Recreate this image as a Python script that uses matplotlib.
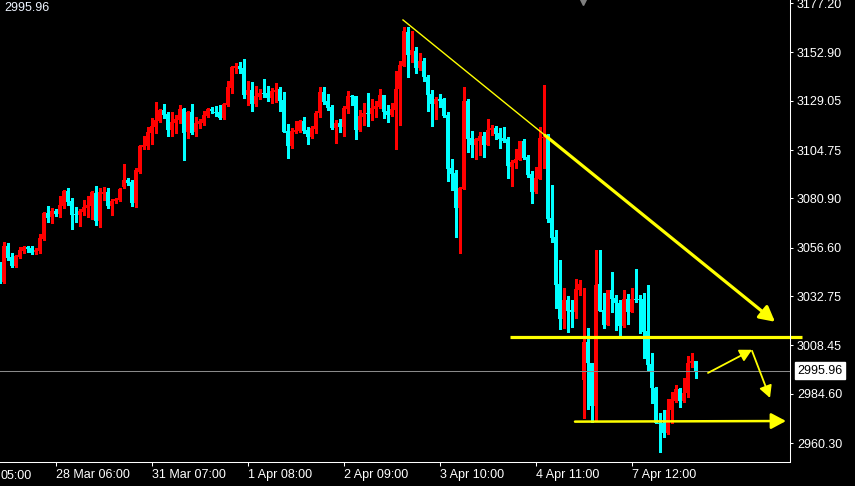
#!/usr/bin/env python

# gold H1 chart with trend lines, MT4 style

import numpy as np
import matplotlib.pyplot as plt

# candle data (one bar per hour)
opens = [
    3049.6, 3039.8, 3057.5, 3052.1, 3047.7, 3052.1, 3055.1, 3057.0, 3056.5, 3054.6,
    3055.1, 3061.0, 3073.8, 3071.8, 3074.8, 3073.3, 3077.2, 3084.6, 3079.7, 3073.3,
    3072.8, 3074.3, 3076.2, 3077.2, 3083.6, 3069.8, 3083.1, 3084.1, 3077.2, 3079.7,
    3080.2, 3086.6, 3090.0, 3089.0, 3078.7, 3094.0, 3106.3, 3106.8, 3113.2, 3116.1,
    3119.1, 3124.5, 3122.5, 3114.7, 3118.1, 3119.6, 3125.0, 3113.7, 3123.5, 3113.7,
    3117.6, 3118.1, 3121.6, 3125.0, 3123.5, 3123.5, 3120.6, 3127.0, 3135.4, 3145.2,
    3146.2, 3145.2, 3131.9, 3134.4, 3127.5, 3130.9, 3132.9, 3132.9, 3130.4, 3133.4,
    3134.9, 3129.4, 3114.2, 3106.8, 3113.7, 3114.2, 3119.1, 3114.7, 3111.2, 3115.2,
    3123.0, 3133.4, 3128.9, 3126.0, 3115.6, 3118.1, 3116.1, 3125.0, 3131.4, 3131.4,
    3114.7, 3121.1, 3123.0, 3122.5, 3125.0, 3126.0, 3131.9, 3124.0, 3122.0, 3124.5,
    3134.9, 3146.2, 3162.9, 3151.6, 3153.6, 3145.2, 3148.6, 3140.8, 3132.4, 3127.5,
    3129.9, 3129.9, 3122.0, 3095.9, 3093.5, 3076.2, 3085.6, 3128.9, 3110.7, 3107.3,
    3109.2, 3111.7, 3107.3, 3114.7, 3115.6, 3113.2, 3110.7, 3110.2, 3096.4, 3098.4,
    3099.9, 3109.2, 3101.4, 3093.0, 3084.1, 3090.5, 3110.7, 3111.7, 3071.3, 3062.0,
    3038.8, 3021.6, 3030.9, 3026.0, 3025.0, 3035.8, 2991.5, 3010.2, 2999.9, 2978.7,
    3038.8, 3026.0, 3018.6, 3035.8, 3031.9, 3029.4, 3018.1, 3031.4, 3025.0, 3031.4,
    3031.4, 3031.4, 3015.6, 2999.4, 2987.6, 2970.3, 2970.3, 2965.4, 2976.7, 2981.2,
    2987.1, 2981.2, 2985.1, 2999.9, 3000.9,
]
highs = [
    3049.6, 3059.5, 3059.0, 3054.1, 3053.1, 3057.0, 3057.5, 3057.5, 3057.5, 3056.5,
    3063.4, 3074.3, 3077.2, 3076.2, 3075.7, 3082.1, 3085.1, 3086.1, 3081.2, 3076.7,
    3075.7, 3080.2, 3082.1, 3084.6, 3087.1, 3086.1, 3086.6, 3086.1, 3080.7, 3081.2,
    3086.1, 3097.9, 3091.0, 3090.0, 3095.9, 3107.3, 3111.7, 3116.1, 3120.6, 3128.5,
    3125.0, 3127.5, 3123.5, 3123.5, 3122.0, 3127.0, 3125.5, 3124.0, 3127.5, 3121.1,
    3120.1, 3124.0, 3125.5, 3126.0, 3126.5, 3127.0, 3128.0, 3138.8, 3146.2, 3147.7,
    3148.2, 3149.6, 3138.8, 3138.3, 3136.3, 3134.9, 3139.8, 3136.3, 3135.4, 3137.8,
    3135.8, 3133.4, 3117.6, 3115.6, 3119.1, 3119.6, 3121.1, 3116.1, 3116.6, 3124.0,
    3135.8, 3135.8, 3132.4, 3127.0, 3119.6, 3120.1, 3126.5, 3133.9, 3131.9, 3131.4,
    3124.5, 3128.0, 3132.9, 3129.9, 3128.9, 3134.9, 3131.9, 3127.0, 3128.0, 3143.7,
    3148.6, 3165.4, 3165.4, 3163.4, 3155.5, 3152.6, 3150.1, 3141.8, 3134.4, 3130.9,
    3132.4, 3130.4, 3123.5, 3100.4, 3094.9, 3086.6, 3135.8, 3129.9, 3114.2, 3110.7,
    3113.7, 3113.7, 3120.1, 3117.1, 3116.6, 3115.6, 3116.1, 3111.2, 3099.9, 3105.3,
    3109.2, 3110.2, 3102.3, 3094.5, 3096.4, 3116.1, 3136.8, 3112.7, 3087.6, 3065.4,
    3050.6, 3036.8, 3032.9, 3030.9, 3041.3, 3040.8, 3036.8, 3017.1, 2999.9, 3055.5,
    3055.5, 3034.4, 3035.8, 3044.7, 3033.4, 3030.9, 3035.8, 3033.9, 3036.8, 3046.2,
    3033.4, 3034.4, 3038.3, 3004.8, 2988.1, 2975.3, 2976.7, 2982.2, 2985.6, 2989.1,
    2987.6, 2992.5, 3003.3, 3004.8, 3000.9,
]
lows = [
    3039.3, 3039.3, 3050.6, 3047.2, 3047.2, 3051.6, 3054.1, 3054.6, 3053.6, 3053.6,
    3054.1, 3060.5, 3069.3, 3068.9, 3072.3, 3071.8, 3076.2, 3077.7, 3065.9, 3069.3,
    3067.4, 3072.8, 3071.8, 3070.8, 3067.9, 3066.9, 3080.2, 3076.2, 3072.8, 3078.7,
    3079.7, 3086.1, 3087.6, 3077.2, 3076.7, 3093.5, 3105.3, 3105.3, 3107.8, 3113.2,
    3118.6, 3120.6, 3111.7, 3111.7, 3113.2, 3118.1, 3099.9, 3110.7, 3112.7, 3111.7,
    3115.6, 3117.1, 3121.1, 3123.0, 3121.6, 3120.1, 3120.1, 3126.5, 3132.9, 3142.7,
    3142.7, 3130.4, 3127.0, 3124.0, 3126.5, 3129.9, 3130.9, 3128.9, 3128.0, 3128.5,
    3124.0, 3113.7, 3100.9, 3105.8, 3113.2, 3113.7, 3113.2, 3107.8, 3110.7, 3113.2,
    3121.1, 3127.5, 3124.5, 3115.2, 3108.3, 3113.7, 3111.7, 3123.0, 3127.0, 3110.2,
    3114.2, 3117.1, 3116.6, 3119.6, 3121.1, 3125.5, 3120.6, 3118.6, 3121.6, 3105.3,
    3117.1, 3146.2, 3140.8, 3148.2, 3142.7, 3144.2, 3138.8, 3124.0, 3116.6, 3120.1,
    3126.0, 3121.1, 3089.5, 3085.1, 3062.0, 3054.1, 3085.6, 3103.8, 3101.4, 3100.4,
    3102.3, 3101.4, 3107.3, 3112.2, 3110.2, 3105.8, 3108.7, 3091.0, 3087.1, 3095.9,
    3099.9, 3100.4, 3091.5, 3078.7, 3083.6, 3090.5, 3095.9, 3069.3, 3059.5, 3027.0,
    3016.6, 3017.1, 3015.2, 3017.6, 3022.1, 3033.4, 2972.8, 2977.2, 2970.8, 2971.8,
    3025.5, 3017.1, 3018.6, 3025.0, 3016.1, 3013.2, 3017.6, 3019.1, 3025.0, 3029.9,
    3014.7, 3002.3, 2996.4, 2980.2, 2970.3, 2956.0, 2963.4, 2964.9, 2970.3, 2980.7,
    2978.2, 2980.7, 2983.1, 2997.9, 2992.5,
]
closes = [
    3039.8, 3057.5, 3051.6, 3047.7, 3052.6, 3055.5, 3057.0, 3056.0, 3054.1, 3055.5,
    3061.5, 3073.8, 3071.3, 3074.8, 3073.3, 3077.7, 3084.6, 3079.2, 3072.8, 3072.8,
    3074.8, 3076.7, 3077.7, 3084.1, 3069.8, 3084.1, 3084.1, 3077.2, 3079.7, 3080.7,
    3085.6, 3090.0, 3088.5, 3078.7, 3094.9, 3106.8, 3107.3, 3113.7, 3116.6, 3119.6,
    3124.5, 3122.0, 3114.7, 3118.6, 3120.1, 3125.0, 3113.2, 3123.5, 3113.2, 3118.1,
    3119.1, 3122.0, 3125.0, 3124.0, 3123.0, 3120.6, 3127.5, 3135.8, 3145.7, 3146.2,
    3144.7, 3131.9, 3134.4, 3127.5, 3131.4, 3132.9, 3132.4, 3130.4, 3133.9, 3134.4,
    3128.9, 3113.7, 3106.8, 3114.2, 3114.7, 3119.1, 3114.2, 3111.2, 3115.6, 3123.0,
    3133.4, 3128.5, 3125.5, 3115.6, 3118.1, 3116.1, 3125.5, 3131.4, 3130.9, 3114.7,
    3121.6, 3123.0, 3122.5, 3125.5, 3126.5, 3131.9, 3123.5, 3122.0, 3125.0, 3134.9,
    3146.7, 3163.4, 3151.6, 3154.1, 3145.2, 3148.6, 3140.8, 3131.9, 3127.5, 3129.9,
    3128.9, 3121.6, 3095.4, 3093.0, 3076.2, 3086.1, 3128.9, 3110.2, 3107.3, 3110.2,
    3111.7, 3107.3, 3114.7, 3115.6, 3112.7, 3110.2, 3109.2, 3096.9, 3098.9, 3100.4,
    3109.2, 3100.9, 3092.5, 3084.1, 3091.0, 3110.7, 3111.2, 3070.8, 3061.5, 3038.3,
    3021.6, 3030.9, 3025.5, 3025.0, 3036.3, 3038.8, 3010.2, 2999.9, 2978.7, 3038.3,
    3025.5, 3018.6, 3035.8, 3031.4, 3029.4, 3018.1, 3031.4, 3025.0, 3031.4, 3030.9,
    3030.9, 3015.2, 2998.9, 2987.6, 2970.3, 2969.8, 2965.4, 2976.7, 2982.2, 2987.1,
    2981.2, 2985.1, 2999.9, 3000.9, 2995.96,
]

# axis labels
ytick_values = [3177.20, 3152.90, 3129.05, 3104.75, 3080.90, 3056.60,
                3032.75, 3008.45, 2984.60, 2960.30]
xtick_bars = [14, 38, 62, 86, 110, 134, 158]
xtick_labels = ['28 Mar 06:00', '31 Mar 07:00', '1 Apr 08:00', '2 Apr 09:00',
                '3 Apr 10:00', '4 Apr 11:00', '7 Apr 12:00']
# only the time of the first date label is visible at the left edge
first_label = '05:00'

# hand drawn lines (bar index, price)
trend_bars = [100.75, 136.25, 193.75]
trend_prices = [3168.85, 3112.0, 3020.1]
level_bars = [127.5, 200.5]
level_price = 3012.4
support_bars = [143.75, 196.5]
support_prices = [2970.9, 2971.2]
bounce_bars = [177.0, 188.0, 192.5]
bounce_prices = [2994.9, 3006.3, 2982.6]

UP = '#ff0000'
DOWN = '#00ffff'
YEL = '#ffff00'


def arrow(ax, start, end, lw, scale, head='-|>,head_length=0.6,head_width=0.32'):
    ax.annotate('', xy=end, xytext=start, annotation_clip=False,
                arrowprops=dict(arrowstyle=head, color=YEL, lw=lw,
                                mutation_scale=scale, shrinkA=0, shrinkB=0))


def main():
    plt.rcParams['font.family'] = ['Liberation Sans', 'DejaVu Sans']

    fig = plt.figure(figsize=(8.55, 4.86), dpi=100, facecolor='black')
    ax = fig.add_axes([0, 24.5 / 486, 790 / 855, 461.5 / 486])
    ax.set_facecolor('black')

    o = np.array(opens)
    h = np.array(highs)
    l = np.array(lows)
    c = np.array(closes)
    x = np.arange(len(o))
    colors = np.where(c >= o, UP, DOWN)

    ax.vlines(x, l, h, colors=colors, lw=0.75, antialiased=False)
    body = np.maximum(np.abs(c - o), 0.5)
    ax.bar(x, body, width=0.8, bottom=np.minimum(o, c), color=colors,
           linewidth=0, antialiased=False)

    # last price line
    ax.axhline(c[-1], color='#8a8a8a', lw=0.75)

    # trend line: thin first, then thick arrow
    ax.plot(trend_bars[:2], trend_prices[:2], color=YEL, lw=1.0)
    arrow(ax, (trend_bars[1], trend_prices[1]), (trend_bars[2], trend_prices[2]),
          lw=2.3, scale=15)
    ax.plot(level_bars, [level_price, level_price], color=YEL, lw=2.3,
            clip_on=False, solid_capstyle='butt')
    arrow(ax, (support_bars[0], support_prices[0]), (support_bars[1], support_prices[1]),
          lw=1.8, scale=15)
    arrow(ax, (bounce_bars[0], bounce_prices[0]), (bounce_bars[1], bounce_prices[1]),
          lw=1.3, scale=12)
    arrow(ax, (bounce_bars[1], bounce_prices[1] - 0.5), (bounce_bars[2], bounce_prices[2]),
          lw=1.3, scale=12)

    ax.set_xlim(0, 197.5)
    ax.set_ylim(2951.25, 3178.68)

    for side in ['left', 'top']:
        ax.spines[side].set_visible(False)
    for side in ['right', 'bottom']:
        ax.spines[side].set_color('white')
        ax.spines[side].set_linewidth(0.75)

    ax.yaxis.tick_right()
    ax.set_yticks(ytick_values)
    ax.set_yticklabels(['{:.2f}'.format(v) for v in ytick_values])
    ax.set_xticks(xtick_bars)
    ax.set_xticklabels(xtick_labels, ha='left')
    ax.tick_params(axis='y', colors='white', direction='out', length=2.5,
                   width=0.75, pad=2.5, labelsize=9)
    ax.tick_params(axis='x', colors='white', direction='out', length=3,
                   width=0.75, pad=2.5, labelsize=9)

    ax.text(0.5 / 790, -0.0185, first_label, color='white', fontsize=9,
            ha='left', va='top', transform=ax.transAxes, clip_on=False)

    # last price box on the scale
    ax.text(1 + 7 / 790, c[-1], '{:.2f}'.format(c[-1]), color='black', fontsize=9,
            ha='left', va='center', transform=ax.get_yaxis_transform(),
            bbox=dict(boxstyle='square,pad=0.2', fc='white', ec='white'))

    # chart shift marker
    ax.plot(583 / 790, 0.997, marker='v', ms=6, color='#808080',
            transform=ax.transAxes, clip_on=False)

    fig.text(4 / 855, 1 - 8 / 486, '{:.2f}'.format(c[-1]), color='#eef4ff',
             fontsize=9, ha='left', va='center')

    fig.savefig('out.png', dpi=100, facecolor='black')


if __name__ == '__main__':
    main()
